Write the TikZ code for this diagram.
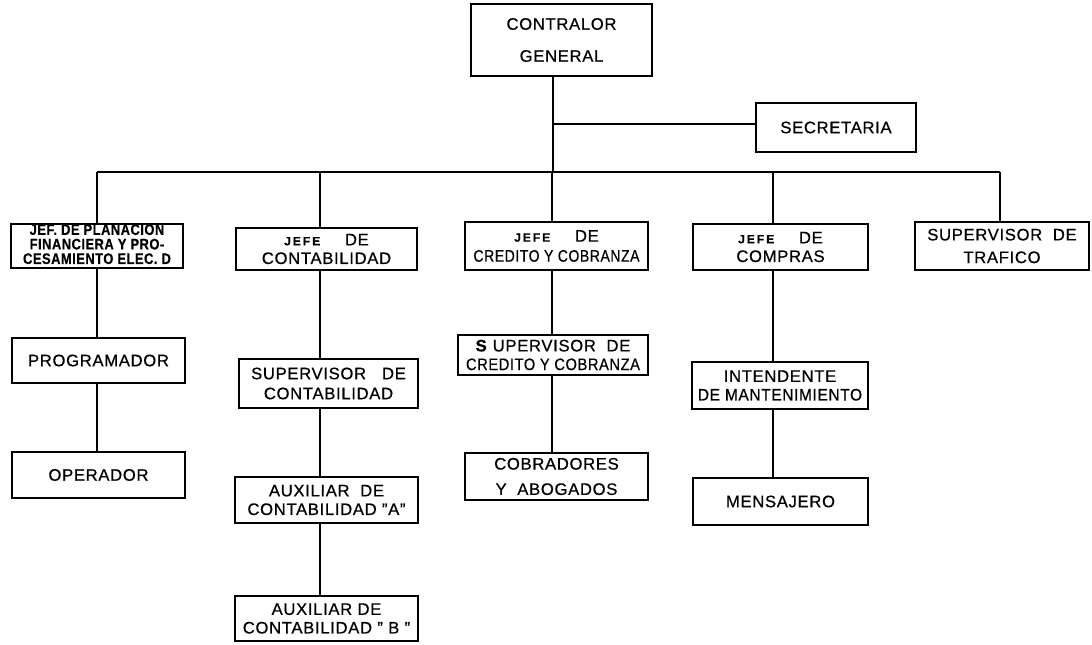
\documentclass[tikz,border=0pt]{standalone}
\usepackage{fontspec}
\usepackage{graphicx}
\setmainfont{Liberation Sans}[LetterSpace=4, FakeBold=0.6]
\usetikzlibrary{calc}

% box given by its corners (x1,y1) and (x2,y2) in pixel units
\newcommand\orgbox[6]{%
  \node[orgnode, minimum width={(#4-#2)*0.75pt}, minimum height={(#5-#3)*0.75pt}]
    (#1) at ({(#2+#4)/2},{(#3+#5)/2}) {#6};}
\newcommand\jefe{{\small\bfseries J\,E\,F\,E}}
\newcommand\squeeze[2]{\scalebox{#1}[1]{#2}}

\begin{document}
\begin{tikzpicture}[x=0.75pt, y=-0.75pt,
  orgnode/.style={draw, line width=2pt, inner sep=0pt, align=center,
    font=\fontsize{12.5}{15}\selectfont},
  link/.style={line width=1.2pt}]
\useasboundingbox (0,0) rectangle (1092,644);

% top level
\orgbox{ctrl}{471}{4}{652}{76}{CONTRALOR\\[9pt]GENERAL}
\orgbox{sec}{756}{103}{916}{152}{SECRETARIA}

% second level
\orgbox{jplan}{11}{224}{183}{268}{\squeeze{0.84}{\bfseries\fontsize{11.5}{9.6}\selectfont
  \begin{tabular}{@{}c@{}}JEF. DE PLANACION\\FINANCIERA Y PRO-\\CESAMIENTO ELEC. D\end{tabular}}}
\orgbox{jcont}{236}{228}{417}{270}{\jefe\quad\ \,DE\\[-1pt]CONTABILIDAD}
\orgbox{jcred}{465}{222}{648}{270}{\jefe\quad\ \,DE\\[0pt]\squeeze{0.84}{CREDITO Y COBRANZA}}
\orgbox{jcomp}{693}{224}{868}{270}{\jefe\quad\ \,DE\\[-1pt]COMPRAS}
\orgbox{traf}{915}{222}{1089}{270}{SUPERVISOR\ \ DE\\[2pt]TRAFICO}

% third level and below
\orgbox{prog}{12}{338}{185}{383}{PROGRAMADOR}
\orgbox{oper}{12}{452}{185}{498}{OPERADOR}
\orgbox{supcont}{239}{359}{418}{408}{SUPERVISOR\ \ \ DE\\[0pt]CONTABILIDAD}
\orgbox{auxa}{235}{477}{418}{523}{AUXILIAR\ \ DE\\[-1pt]CONTABILIDAD "A"}
\orgbox{auxb}{235}{596}{418}{641}{AUXILIAR DE\\[-1pt]CONTABILIDAD " B "}
\orgbox{supcred}{458}{335}{648}{375}{\textbf{S} UPERVISOR\ \ DE\\[-1pt]\squeeze{0.88}{CREDITO Y COBRANZA}}
\orgbox{cobr}{465}{453}{648}{500}{COBRADORES\\[4pt]Y \ ABOGADOS}
\orgbox{intend}{692}{362}{868}{409}{INTENDENTE\\[-1pt]\squeeze{0.93}{DE MANTENIMIENTO}}
\orgbox{mens}{693}{478}{868}{525}{MENSAJERO}

% junctions
\coordinate (t1) at (553,124);
\coordinate (t2) at (553,172);
\coordinate (b1) at (97,172);
\coordinate (b2) at (320,172);
\coordinate (b3) at (552,172);
\coordinate (b4) at (773,172);
\coordinate (b5) at (1000,172);

% trunk from the controller
\draw[link] (t1 |- ctrl.south) -- (t2);
\draw[link] (t1) -- (sec.west |- t1);
\draw[link] (b1) -- (b5);
\foreach \b/\n in {b1/jplan, b2/jcont, b3/jcred, b4/jcomp, b5/traf}
  \draw[link] (\b) -- (\b |- \n.north);

% chains below each head
\draw[link] (b1 |- jplan.south) -- (b1 |- prog.north);
\draw[link] (b1 |- prog.south) -- (b1 |- oper.north);
\draw[link] (b2 |- jcont.south) -- (b2 |- supcont.north);
\draw[link] (b2 |- supcont.south) -- (b2 |- auxa.north);
\draw[link] (b2 |- auxa.south) -- (b2 |- auxb.north);
\draw[link] (b3 |- jcred.south) -- (b3 |- supcred.north);
\draw[link] (b3 |- supcred.south) -- (b3 |- cobr.north);
\draw[link] (b4 |- jcomp.south) -- (b4 |- intend.north);
\draw[link] (b4 |- intend.south) -- (b4 |- mens.north);
\end{tikzpicture}
\end{document}
